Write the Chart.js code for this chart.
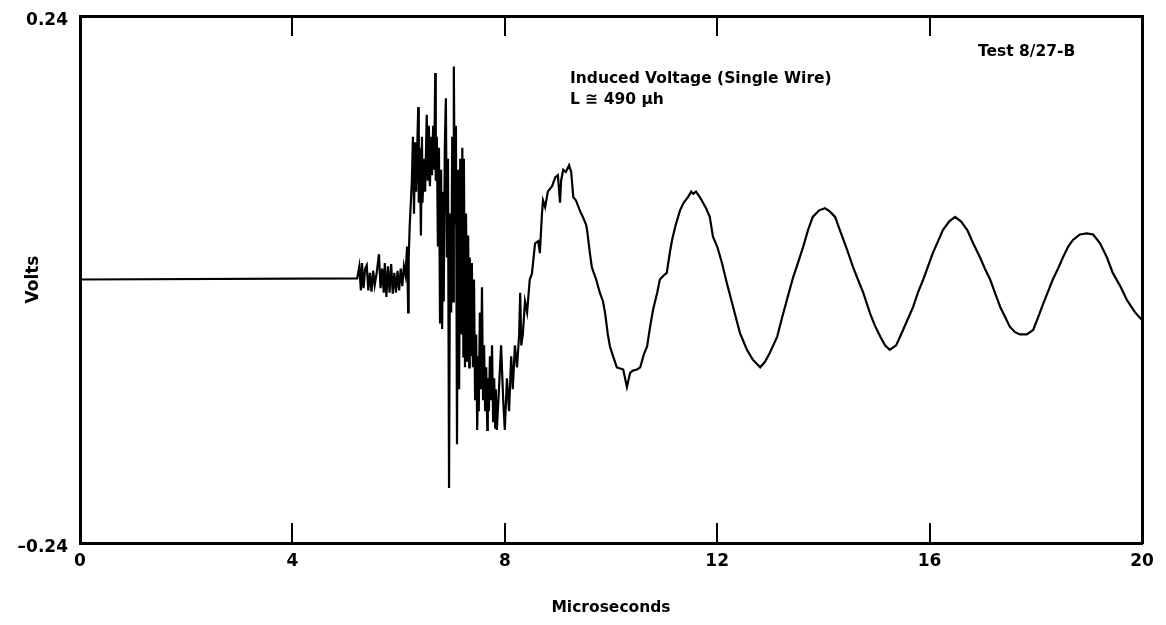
<!DOCTYPE html>
<html>
<head>
<meta charset="utf-8">
<script src="https://cdn.jsdelivr.net/npm/chart.js@4.4.0/dist/chart.umd.min.js"></script>
<style>
html, body { margin: 0; padding: 0; background: #fff; }
#wrap { position: relative; width: 1166px; height: 625px; }
.note { position: absolute; font: bold 15.5px 'DejaVu Sans', sans-serif; color: #000; white-space: nowrap; line-height: 21px; }
</style>
</head>
<body>
<div id="wrap">
  <canvas id="myChart" width="1166" height="625"></canvas>
  <div class="note" style="left:978px; top:41px;">Test 8/27-B</div>
  <div class="note" style="left:570px; top:68px;">Induced Voltage (Single Wire)<br>L ≅ 490 μh</div>
</div>
<script>
// microseconds / volts
// quiet line and the small noise before the burst
var quietTimes = [
  0, 5.22, 5.26, 5.29, 5.31, 5.34, 5.37, 5.40, 5.43, 5.46,
  5.49, 5.52, 5.55, 5.59, 5.63, 5.66, 5.69, 5.72, 5.74, 5.77,
  5.80, 5.83, 5.86, 5.89, 5.92, 5.95, 5.98, 6.01, 6.04, 6.07,
  6.10, 6.13, 6.16, 6.18, 6.19, 6.21];
var quietVolts = [
  0, 0.001, 0.012, -0.010, 0.015, -0.008, 0.010, 0.013, -0.010, 0.006,
  -0.011, 0.008, -0.005, 0.007, 0.023, -0.008, 0.010, -0.012, 0.015, -0.016,
  0.012, -0.012, 0.014, -0.013, 0.006, -0.012, 0.008, -0.010, 0.010, -0.006,
  0.012, 0.004, 0.030, -0.030, 0.020, 0.050];

// the big burst
var burstTimes = [
  6.25, 6.27, 6.29, 6.31, 6.33, 6.37, 6.38, 6.40, 6.42, 6.44,
  6.45, 6.48, 6.50, 6.53, 6.55, 6.57, 6.59, 6.61, 6.63, 6.65,
  6.67, 6.69, 6.70, 6.72, 6.74, 6.76, 6.78, 6.80, 6.82, 6.84,
  6.85, 6.87, 6.89, 6.91, 6.93, 6.95, 6.97, 6.99, 7.01, 7.03,
  7.04, 7.06, 7.08, 7.10, 7.12, 7.14, 7.16, 7.18, 7.20, 7.22,
  7.23, 7.25, 7.27, 7.29, 7.31, 7.33, 7.34, 7.36, 7.38, 7.40,
  7.42, 7.44, 7.46, 7.48, 7.50, 7.51, 7.53, 7.55, 7.57, 7.59,
  7.61, 7.63, 7.65, 7.67, 7.68, 7.70, 7.72, 7.74, 7.76, 7.78,
  7.80, 7.82, 7.83, 7.85, 7.89, 7.93, 7.97, 8.00, 8.04, 8.08,
  8.12, 8.15, 8.19, 8.23, 8.27, 8.29, 8.31, 8.34, 8.38, 8.42];
var burstVolts = [
  0.090, 0.130, 0.060, 0.125, 0.080, 0.157, 0.070, 0.120, 0.040, 0.130,
  0.070, 0.110, 0.080, 0.150, 0.090, 0.140, 0.085, 0.130, 0.095, 0.140,
  0.100, 0.188, 0.090, 0.130, 0.030, 0.120, -0.040, 0.100, -0.045, 0.080,
  -0.020, 0.120, 0.165, 0.020, 0.110, -0.190, 0.060, -0.030, 0.130, -0.020,
  0.194, 0.050, 0.140, -0.150, 0.100, -0.100, 0.110, -0.050, 0.120, -0.070,
  0.110, -0.080, 0.060, -0.075, 0.040, -0.080, 0.020, -0.070, 0.015, -0.080,
  0.000, -0.110, -0.050, -0.137, -0.070, -0.120, -0.030, -0.100, -0.007, -0.110,
  -0.060, -0.120, -0.080, -0.137, -0.090, -0.120, -0.070, -0.110, -0.060, -0.130,
  -0.090, -0.135, -0.100, -0.137, -0.100, -0.060, -0.110, -0.137, -0.090, -0.120,
  -0.070, -0.100, -0.060, -0.080, -0.050, -0.012, -0.060, -0.050, -0.020, -0.030];

// ringing afterwards
var ringTimes = [
  8.47, 8.51, 8.57, 8.63, 8.66, 8.70, 8.72, 8.76, 8.81, 8.89,
  8.95, 9.00, 9.04, 9.06, 9.10, 9.15, 9.21, 9.25, 9.29, 9.34,
  9.42, 9.47, 9.53, 9.55, 9.60, 9.64, 9.72, 9.79, 9.85, 9.89,
  9.94, 9.98, 10.04, 10.11, 10.17, 10.23, 10.30, 10.36, 10.41, 10.49,
  10.55, 10.62, 10.68, 10.73, 10.79, 10.87, 10.92, 11.00, 11.05, 11.11,
  11.15, 11.22, 11.30, 11.37, 11.45, 11.51, 11.55, 11.60, 11.66, 11.71,
  11.79, 11.86, 11.92, 12.00, 12.09, 12.18, 12.30, 12.43, 12.56, 12.67,
  12.81, 12.90, 12.99, 13.13, 13.22, 13.31, 13.43, 13.52, 13.62, 13.71,
  13.80, 13.92, 14.03, 14.12, 14.22, 14.31, 14.44, 14.56, 14.65, 14.75,
  14.88, 14.97, 15.07, 15.16, 15.25, 15.37, 15.50, 15.59, 15.69, 15.78,
  15.88, 15.97, 16.06, 16.16, 16.25, 16.37, 16.48, 16.59, 16.71, 16.82,
  16.95, 17.04, 17.14, 17.23, 17.33, 17.42, 17.51, 17.61, 17.70, 17.83,
  17.95, 18.04, 18.14, 18.23, 18.32, 18.42, 18.51, 18.61, 18.70, 18.83,
  18.96, 19.08, 19.21, 19.34, 19.45, 19.59, 19.72, 19.87, 20.0];
var ringVolts = [
  0.000, 0.005, 0.033, 0.035, 0.024, 0.060, 0.072, 0.066, 0.080, 0.085,
  0.093, 0.095, 0.070, 0.090, 0.100, 0.098, 0.104, 0.098, 0.075, 0.072,
  0.062, 0.057, 0.050, 0.045, 0.025, 0.011, 0.000, -0.012, -0.020, -0.031,
  -0.050, -0.061, -0.070, -0.080, -0.081, -0.082, -0.098, -0.085, -0.083, -0.082,
  -0.080, -0.068, -0.061, -0.045, -0.028, -0.012, 0.000, 0.004, 0.006, 0.025,
  0.036, 0.050, 0.063, 0.070, 0.075, 0.080, 0.078, 0.080, 0.076, 0.072,
  0.065, 0.057, 0.039, 0.030, 0.015, -0.003, -0.025, -0.049, -0.064, -0.073,
  -0.080, -0.075, -0.067, -0.052, -0.035, -0.019, 0.002, 0.015, 0.030, 0.045,
  0.057, 0.063, 0.065, 0.062, 0.057, 0.045, 0.028, 0.011, 0.000, -0.012,
  -0.031, -0.042, -0.052, -0.060, -0.064, -0.060, -0.046, -0.036, -0.025, -0.012,
  0.000, 0.012, 0.024, 0.035, 0.045, 0.053, 0.057, 0.053, 0.045, 0.033,
  0.020, 0.010, 0.000, -0.012, -0.025, -0.034, -0.043, -0.048, -0.050, -0.050,
  -0.046, -0.035, -0.022, -0.011, 0.000, 0.010, 0.020, 0.030, 0.036, 0.041,
  0.042, 0.041, 0.033, 0.020, 0.006, -0.006, -0.019, -0.030, -0.037];

var xTicks = [0, 4, 8, 12, 16, 20];
var yTicks = [-0.24, 0.24];
var yTickLabels = ['\u20130.24', '0.24'];

var times = quietTimes.concat(burstTimes, ringTimes);
var volts = quietVolts.concat(burstVolts, ringVolts);
var points = times.map(function(t, i){ return {x: t, y: volts[i]}; });

var ink = '#000';
var tickFont = {family: "'DejaVu Sans', sans-serif", size: 17, weight: 'bold'};

function setXTicks(scale){
    scale.ticks = xTicks.map(function(v){ return {value: v}; });
}
// fixed box sizes so the plot frame lands where the original has it
function sizeX(h){
    return function(scale){
        scale.height = h;
        scale.paddingLeft = 0;
        scale.paddingRight = 0;
    };
}
function sizeY(w){
    return function(scale){
        scale.width = w;
        scale.paddingTop = 0;
        scale.paddingBottom = 0;
    };
}

var ctx = document.getElementById('myChart').getContext('2d');
var chart = new Chart(ctx, {
    type: 'line',
    data: {
        datasets: [{
            label: 'Induced Voltage',
            data: points,
            borderColor: ink,
            borderWidth: 2.2,
            pointRadius: 0,
            tension: 0,
            fill: false
        }]
    },
    options: {
        responsive: false,
        animation: false,
        layout: {padding: 0},
        plugins: {legend: {display: false}, tooltip: {enabled: false}},
        scales: {
            x: {
                type: 'linear', position: 'bottom', min: 0, max: 20,
                afterBuildTicks: setXTicks,
                afterFit: sizeX(82),
                ticks: {color: ink, font: tickFont, padding: 28, maxRotation: 0},
                grid: {drawOnChartArea: false, drawTicks: true, tickLength: -20, color: ink, lineWidth: 2},
                border: {color: ink, width: 3},
                title: {display: true, text: 'Microseconds', color: ink,
                        font: {family: "'DejaVu Sans', sans-serif", size: 15.5, weight: 'bold'},
                        padding: {top: 0, bottom: 8}}
            },
            x2: {
                type: 'linear', position: 'top', min: 0, max: 20,
                afterBuildTicks: setXTicks,
                afterFit: sizeX(16),
                ticks: {display: false},
                grid: {drawOnChartArea: false, drawTicks: true, tickLength: -20, color: ink, lineWidth: 2},
                border: {color: ink, width: 3}
            },
            y: {
                type: 'linear', position: 'left', min: -0.24, max: 0.24,
                afterBuildTicks: function(scale){
                    scale.ticks = yTicks.map(function(v){ return {value: v}; });
                },
                afterFit: sizeY(80),
                ticks: {
                    color: ink, font: tickFont, padding: 12, labelOffset: 5,
                    callback: function(v){ return yTickLabels[yTicks.indexOf(v)]; }
                },
                grid: {drawOnChartArea: false, drawTicks: false},
                border: {color: ink, width: 3},
                title: {display: true, text: 'Volts', color: ink,
                        font: {family: "'DejaVu Sans', sans-serif", size: 17, weight: 'bold'},
                        padding: {top: 23, bottom: 0}}
            },
            y2: {
                type: 'linear', position: 'right', min: -0.24, max: 0.24,
                afterFit: sizeY(24),
                ticks: {display: false},
                grid: {drawOnChartArea: false, drawTicks: false},
                border: {color: ink, width: 3}
            }
        }
    }
});
</script>
</body>
</html>
